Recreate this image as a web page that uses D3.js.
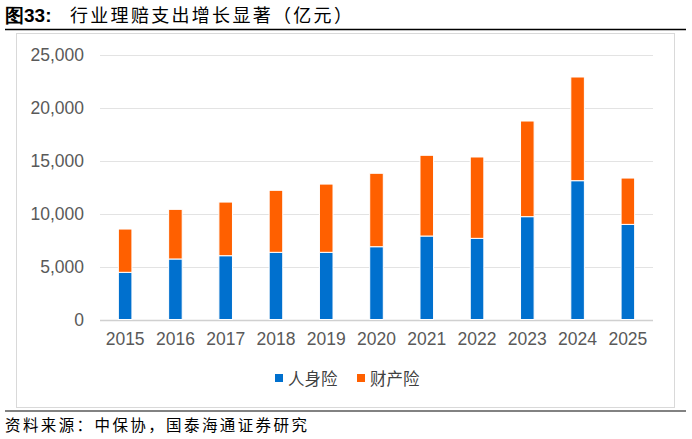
<!DOCTYPE html>
<html><head><meta charset="utf-8">
<script src="https://cdn.jsdelivr.net/npm/d3@7"></script>
<style>body{margin:0;background:#fff}svg{display:block}</style>
</head><body>
<svg id="c" width="692" height="439"></svg>
<script>
const years = ["2015","2016","2017","2018","2019","2020","2021","2022","2023","2024","2025"];
const lifeIns = [4460,5720,6030,6350,6350,6880,7890,7670,9720,13120,8990];
const propertyIns = [4090,4690,5070,5860,6450,6940,7630,7690,9040,9800,4380];
const seriesNames = ["人身险","财产险"];
const yTicks = [0,5000,10000,15000,20000,25000];
const colors = ["#0070CE","#FF6000"];

const svg = d3.select("#c");
const cjk = "'Noto Sans CJK SC', sans-serif";
const latin = "'Liberation Sans', Arial, sans-serif";

// title
svg.append("text").attr("x",5).attr("y",22).attr("font-family",latin).attr("font-size",19).attr("font-weight","bold").attr("fill","#000").text("图33:");
svg.append("text").attr("x",70).attr("y",22).attr("font-family",cjk).attr("font-size",18).attr("letter-spacing",2.3).attr("fill","#000").text("行业理赔支出增长显著（亿元）");
svg.append("line").attr("x1",5).attr("x2",686).attr("y1",29.5).attr("y2",29.5).attr("stroke","#000").attr("stroke-width",1.3);
// frame
svg.append("rect").attr("x",16.5).attr("y",33.5).attr("width",658).attr("height",374).attr("fill","none").attr("stroke","#d9d9d9").attr("stroke-width",1);
// bottom line
svg.append("line").attr("x1",5).attr("x2",686).attr("y1",411).attr("y2",411).attr("stroke","#595959").attr("stroke-width",1.5);
svg.append("text").attr("x",5).attr("y",431).attr("font-family",cjk).attr("font-size",15.5).attr("letter-spacing",2.4).attr("fill","#000").text("资料来源：中保协，国泰海通证券研究");

const x = d3.scaleBand().domain(years).range([100,653]).paddingInner(0.73).paddingOuter(0.365);
const y = d3.scaleLinear().domain([0,25000]).range([319.5,55]);

const g = svg.append("g");
// gridlines
g.selectAll(".grid").data(yTicks).join("line")
  .attr("x1",100).attr("x2",653).attr("y1",d=>Math.round(y(d))+0.5).attr("y2",d=>Math.round(y(d))+0.5)
  .attr("stroke",d=>d===0?"#d0d0d0":"#e3e3e3").attr("stroke-width",d=>d===0?1.5:1.2);

// y axis labels via axis
const yAxis = d3.axisLeft(y).tickValues(yTicks).tickSize(0).tickPadding(0).tickFormat(d3.format(","));
const ya = svg.append("g").attr("transform","translate(84,0)").call(yAxis);
ya.select(".domain").remove();
ya.selectAll("text").attr("font-family",latin).attr("font-size",17.5).attr("fill","#595959");

const xAxis = d3.axisBottom(x).tickSize(0).tickPadding(0);
const xa = svg.append("g").attr("transform","translate(0,333)").call(xAxis);
xa.select(".domain").remove();
xa.selectAll("text").attr("font-family",latin).attr("font-size",17.5).attr("fill","#595959").attr("dy","0.71em");

const data = years.map((yr,i)=>({year:yr, life:lifeIns[i], prop:propertyIns[i]}));
const stack = d3.stack().keys(["life","prop"])(data);
svg.append("g").selectAll("g").data(stack).join("g").attr("fill",(d,i)=>colors[i])
  .selectAll("rect").data(d=>d).join("rect")
  .attr("x",d=>x(d.data.year)).attr("width",x.bandwidth())
  .attr("y",d=>y(d[1])).attr("height",d=>y(d[0])-y(d[1]))
  .attr("stroke","#fff").attr("stroke-width",1);

// legend
const lg = svg.append("g");
const lx = [275,357];
seriesNames.forEach((n,i)=>{
  lg.append("rect").attr("x",lx[i]).attr("y",374).attr("width",8).attr("height",8).attr("fill",colors[i]);
  lg.append("text").attr("x",lx[i]+13).attr("y",384.5).attr("font-family",cjk).attr("font-size",16.5).attr("fill","#404040").text(n);
});
</script>
</body></html>
